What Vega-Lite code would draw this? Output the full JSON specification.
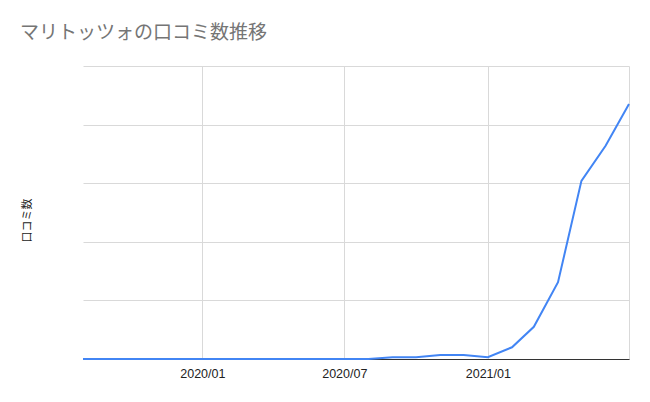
{
  "$schema": "https://vega.github.io/schema/vega-lite/v6.json",
  "autosize": "none",
  "width": 546,
  "height": 293,
  "padding": {"left": 83, "top": 66, "right": 21, "bottom": 43},
  "background": "white",
  "title": {
    "text": "マリトッツォの口コミ数推移",
    "anchor": "start",
    "frame": "group",
    "dx": -63,
    "offset": 23,
    "baseline": "top",
    "font": "Noto Sans CJK JP",
    "fontSize": 19,
    "fontWeight": "normal",
    "color": "#757575"
  },
  "data": {
    "values": [
      {"month": "2019-08-01", "count": 0},
      {"month": "2019-09-01", "count": 0},
      {"month": "2019-10-01", "count": 0},
      {"month": "2019-11-01", "count": 0},
      {"month": "2019-12-01", "count": 0},
      {"month": "2020-01-01", "count": 0},
      {"month": "2020-02-01", "count": 0},
      {"month": "2020-03-01", "count": 0},
      {"month": "2020-04-01", "count": 0},
      {"month": "2020-05-01", "count": 0},
      {"month": "2020-06-01", "count": 0},
      {"month": "2020-07-01", "count": 0},
      {"month": "2020-08-01", "count": 0},
      {"month": "2020-09-01", "count": 3},
      {"month": "2020-10-01", "count": 3},
      {"month": "2020-11-01", "count": 7},
      {"month": "2020-12-01", "count": 7},
      {"month": "2021-01-01", "count": 3},
      {"month": "2021-02-01", "count": 20},
      {"month": "2021-03-01", "count": 55},
      {"month": "2021-04-01", "count": 131},
      {"month": "2021-05-01", "count": 304},
      {"month": "2021-06-01", "count": 364},
      {"month": "2021-07-01", "count": 435}
    ]
  },
  "mark": {"type": "line", "color": "#4285F4", "strokeWidth": 2},
  "encoding": {
    "x": {
      "field": "month",
      "type": "temporal",
      "title": null,
      "scale": {"type": "utc", "domain": [{"year": 2019, "month": 8, "date": 1, "utc": true}, {"year": 2021, "month": 7, "date": 1, "utc": true}]},
      "axis": {
        "values": [
          {"year": 2020, "month": 1, "date": 1, "utc": true},
          {"year": 2020, "month": 7, "date": 1, "utc": true},
          {"year": 2021, "month": 1, "date": 1, "utc": true},
          {"year": 2021, "month": 7, "date": 1, "utc": true}
        ],
        "labelExpr": "utcFormat(datum.value, '%Y/%m') == '2021/07' ? '' : utcFormat(datum.value, '%Y/%m')",
        "grid": true,
        "gridColor": "#d9d9d9",
        "ticks": false,
        "domainColor": "#333333",
        "labelFont": "Liberation Sans",
        "labelFontSize": 12.5,
        "labelColor": "#222222",
        "labelPadding": 8,
        "labelFlush": false
      }
    },
    "y": {
      "field": "count",
      "type": "quantitative",
      "title": "口コミ数",
      "scale": {"domain": [0, 500], "nice": false},
      "axis": {
        "values": [0, 100, 200, 300, 400, 500],
        "labels": false,
        "ticks": false,
        "domain": false,
        "gridColor": "#d9d9d9",
        "titleFont": "Noto Sans CJK JP",
        "titleFontSize": 11,
        "titleFontWeight": "normal",
        "titleColor": "#222222",
        "titleAngle": -90,
        "titleAlign": "center",
        "titleBaseline": "middle",
        "titleX": -56,
        "titleY": 154
      }
    }
  },
  "config": {"view": {"stroke": null}}
}
